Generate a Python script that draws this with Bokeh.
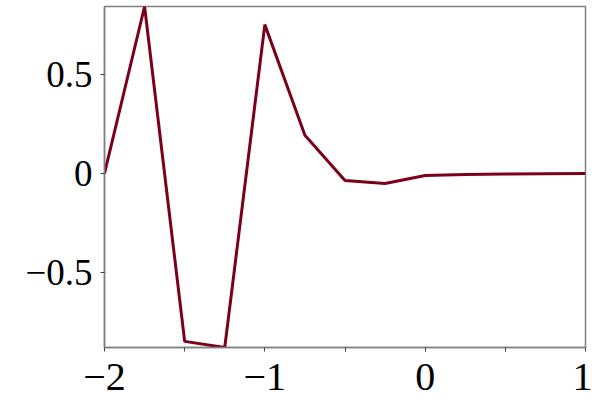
from bokeh.plotting import figure
from bokeh.models import FixedTicker, Range1d
from bokeh.embed import file_html
from bokeh.resources import INLINE

x_vals = [-2.0, -1.75, -1.5, -1.25, -1.0, -0.75, -0.5, -0.25, 0.0, 0.25, 0.5, 0.75, 1.0]
y_vals = [0.0, 0.847, -0.852, -0.883, 0.755, 0.194, -0.036, -0.051, -0.010, -0.005, -0.003, -0.001, 0.0]

x_ticks = [-2, -1, 0, 1]
x_minor = [-1.5, -0.5, 0.5]
x_labels = ["\u22122", "\u22121", "0", "1"]
y_ticks = [-0.5, 0, 0.5]
y_labels = ["\u22120.5", "0", "0.5"]

p = figure(width=592, height=404, output_backend="svg", toolbar_location=None,
           x_range=Range1d(min(x_vals), max(x_vals)),
           y_range=Range1d(min(y_vals), max(y_vals)),
           min_border_left=104, min_border_right=7, min_border_top=6, min_border_bottom=57)

p.line(x_vals, y_vals, line_color="#7B0019", line_width=3)

p.grid.visible = False
p.outline_line_color = "#808080"
p.outline_line_width = 1.5
p.background_fill_color = "white"
p.border_fill_color = "white"

p.xaxis.ticker = FixedTicker(ticks=x_ticks, minor_ticks=x_minor)
p.xaxis.major_label_overrides = {t: l for t, l in zip(x_ticks, x_labels)}
p.yaxis.ticker = FixedTicker(ticks=y_ticks)
p.yaxis.major_label_overrides = {t: l for t, l in zip(y_ticks, y_labels)}

for ax in (p.xaxis, p.yaxis):
    ax.axis_line_color = "#808080"
    ax.axis_line_width = 1.5
    ax.major_tick_line_color = "#404040"
    ax.minor_tick_line_color = "#404040"
    ax.major_tick_in = 0
    ax.major_tick_out = 4
    ax.minor_tick_in = 0
    ax.minor_tick_out = 4
    ax.major_label_text_font = "Liberation Serif"
    ax.major_label_text_color = "black"

p.xaxis.major_label_text_font_size = "40px"
p.yaxis.major_label_text_font_size = "37px"
p.xaxis.major_label_standoff = 12
p.yaxis.major_label_standoff = 8

open("out.html", "w").write(file_html(p, INLINE))
